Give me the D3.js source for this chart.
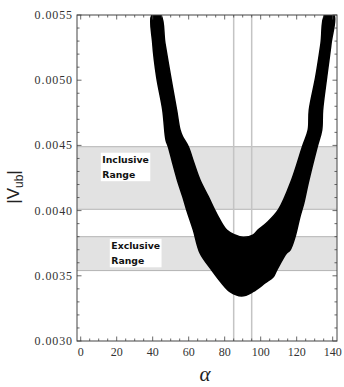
<!DOCTYPE html>
<html>
<head>
<meta charset="utf-8">
<script src="https://cdn.jsdelivr.net/npm/d3@7"></script>
<style>
  body { margin: 0; background: #fff; }
  svg { display: block; }
</style>
</head>
<body>
<div id="chart"></div>
<script>
// allowed region, outer edge (alpha in degrees, |Vub| in units of 1e-3)
const outerAlpha = [39.6, 40.0, 42.2, 45.6, 47.4, 48.7, 51.1, 53.7, 56.7, 58.9, 62.6, 66.3, 72.8, 78.3, 82.9, 89.4,
  95.7, 102.4, 107.0, 108.9, 114.4, 116.3, 119.1, 121.8, 124.0, 126.4, 131.4, 133.9, 134.4, 136.7, 139.1, 140.7];
const outerV = [5.5, 5.285, 5.025, 4.771, 4.541, 4.49, 4.365, 4.235, 4.107, 4.005, 3.851, 3.675, 3.544, 3.445, 3.378, 3.345,
  3.378, 3.445, 3.493, 3.544, 3.675, 3.698, 3.8, 3.953, 4.06, 4.212, 4.49, 4.618, 4.771, 5.027, 5.283, 5.5];
// inner edge, from the right branch back to the left one
const innerAlpha = [135.7, 133.5, 130.6, 127.0, 126.4, 123.2, 117.2, 109.8, 103.3, 98.5, 95.9, 90.3, 85.7, 81.1, 75.6,
  70.9, 66.3, 62.9, 59.8, 56.5, 55.2, 53.3, 50.0, 46.8, 44.4];
const innerV = [5.5, 5.283, 5.027, 4.771, 4.618, 4.49, 4.235, 4.005, 3.905, 3.851, 3.813, 3.795, 3.813, 3.851, 3.974,
  4.107, 4.235, 4.365, 4.49, 4.57, 4.618, 4.771, 5.025, 5.285, 5.5];

const bandNames = [['Inclusive', 'Range'], ['Exclusive', 'Range']];
const bandLow = [0.00401, 0.00354];
const bandHigh = [0.00449, 0.0038];
const labelAlpha = [12, 17];
const labelV = [0.00444, 0.00378];

const vLines = [85, 95];
const xTicks = [0, 20, 40, 60, 80, 100, 120, 140];
const yTicks = [0.0030, 0.0035, 0.0040, 0.0045, 0.0050, 0.0055];

const W = 344, H = 387;
const margin = { top: 15, right: 7, bottom: 46, left: 77 };
const width = W - margin.left - margin.right;
const height = H - margin.top - margin.bottom;

const svg = d3.select('#chart').append('svg').attr('width', W).attr('height', H);
const g = svg.append('g').attr('transform', `translate(${margin.left},${margin.top})`);

const x = d3.scaleLinear().domain([-2.05, 142.4]).range([0, width]);
const y = d3.scaleLinear().domain([0.0030, 0.0055]).range([height, 0]);

svg.append('defs').append('clipPath').attr('id', 'clip')
  .append('rect').attr('width', width).attr('height', height);

const plot = g.append('g').attr('clip-path', 'url(#clip)');

// gray bands
const bands = bandNames.map((n, i) => ({ name: n, lo: bandLow[i], hi: bandHigh[i], a: labelAlpha[i], v: labelV[i] }));
plot.selectAll('.band').data(bands).enter().append('rect')
  .attr('x', 0).attr('width', width)
  .attr('y', d => y(d.hi)).attr('height', d => y(d.lo) - y(d.hi))
  .attr('fill', '#e2e2e2');
bands.forEach(d => {
  [d.lo, d.hi].forEach(v => {
    plot.append('line').attr('x1', 0).attr('x2', width)
      .attr('y1', y(v)).attr('y2', y(v))
      .attr('stroke', '#b4b4b4').attr('stroke-width', 1);
  });
});

// vertical lines
plot.selectAll('.vl').data(vLines).enter().append('line')
  .attr('x1', d => x(d)).attr('x2', d => x(d))
  .attr('y1', 0).attr('y2', height)
  .attr('stroke', '#c4c4c4').attr('stroke-width', 1.5);

// allowed region
const pts = outerAlpha.map((a, i) => [a, outerV[i] / 1000])
  .concat(innerAlpha.map((a, i) => [a, innerV[i] / 1000]));
const line = d3.line().x(d => x(d[0])).y(d => y(d[1])).curve(d3.curveCatmullRomClosed.alpha(0.5));
plot.append('path').attr('d', line(pts))
  .attr('fill', '#000').attr('stroke', '#000').attr('stroke-width', 1.5).attr('stroke-linejoin', 'round');

// band labels
bands.forEach(d => {
  const lbl = g.append('g').attr('transform', `translate(${x(d.a)},${y(d.v)})`);
  const t = lbl.append('text')
    .attr('font-family', 'DejaVu Sans, Verdana, sans-serif')
    .attr('font-weight', 'bold').attr('font-size', 9.3).attr('fill', '#111');
  d.name.forEach((s, k) => t.append('tspan').attr('x', 0).attr('y', 10 + k * 14.5).text(s));
  const bb = t.node().getBBox();
  lbl.insert('rect', 'text')
    .attr('x', bb.x - 1.5).attr('y', bb.y - 1.5)
    .attr('width', bb.width + 3).attr('height', bb.height + 3)
    .attr('fill', '#fff');
});

// frame and ticks
const frameColor = '#444';
g.append('rect').attr('width', width).attr('height', height)
  .attr('fill', 'none').attr('stroke', frameColor).attr('stroke-width', 1);

const xMinor = d3.range(0, 141, 5);
const yMinor = d3.range(30, 56, 1).map(v => v / 10000);
xMinor.forEach(v => {
  const len = v % 20 === 0 ? 4.5 : 2.5;
  g.append('line').attr('x1', x(v)).attr('x2', x(v)).attr('y1', height).attr('y2', height - len)
    .attr('stroke', frameColor).attr('stroke-width', 0.8);
  g.append('line').attr('x1', x(v)).attr('x2', x(v)).attr('y1', 0).attr('y2', len)
    .attr('stroke', frameColor).attr('stroke-width', 0.8);
});
yMinor.forEach((v, i) => {
  const len = i % 5 === 0 ? 4.5 : 2.5;
  g.append('line').attr('x1', 0).attr('x2', len).attr('y1', y(v)).attr('y2', y(v))
    .attr('stroke', frameColor).attr('stroke-width', 0.8);
  g.append('line').attr('x1', width).attr('x2', width - len).attr('y1', y(v)).attr('y2', y(v))
    .attr('stroke', frameColor).attr('stroke-width', 0.8);
});

// tick labels
g.selectAll('.xl').data(xTicks).enter().append('text')
  .attr('x', d => x(d)).attr('y', height + 15)
  .attr('text-anchor', 'middle')
  .attr('font-family', 'Liberation Serif, Times New Roman, serif').attr('font-size', 12)
  .attr('fill', '#333').text(d => d);

g.selectAll('.yl').data(yTicks).enter().append('text')
  .attr('x', -4).attr('y', d => y(d) + 4)
  .attr('text-anchor', 'end')
  .attr('font-family', 'Liberation Serif, Times New Roman, serif').attr('font-size', 12)
  .attr('letter-spacing', 0.9)
  .attr('fill', '#333').text(d => d3.format('.4f')(d));

// axis titles
svg.append('text')
  .attr('x', margin.left + width / 2 - 2).attr('y', 381)
  .attr('text-anchor', 'middle')
  .attr('font-family', 'Liberation Serif, Times New Roman, serif')
  .attr('font-style', 'italic').attr('font-size', 21).attr('fill', '#222')
  .text('α');

const yt = svg.append('text')
  .attr('transform', 'translate(19,187) rotate(-90)')
  .attr('text-anchor', 'middle')
  .attr('font-family', 'Liberation Sans, Arial, sans-serif')
  .attr('font-size', 17).attr('fill', '#222');
yt.append('tspan').text('|V');
yt.append('tspan').attr('font-size', 12).attr('dy', 4).text('ub');
yt.append('tspan').attr('dy', -4).text('|');
</script>
</body>
</html>
